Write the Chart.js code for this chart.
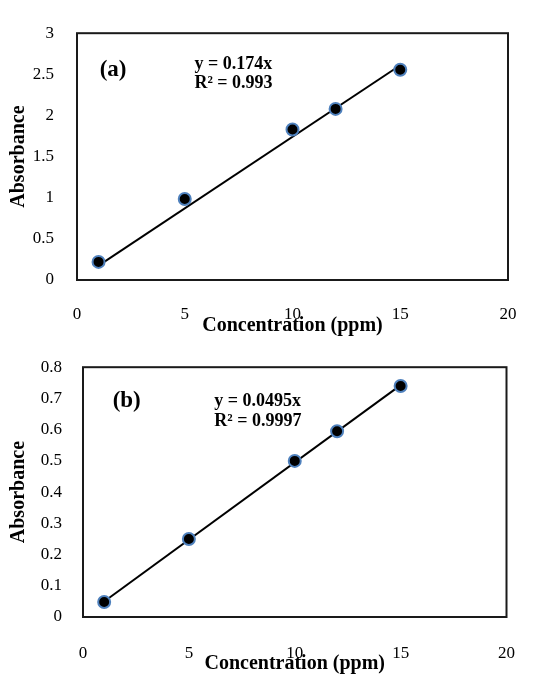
<!DOCTYPE html>
<html>
<head>
<meta charset="utf-8">
<script src="https://cdn.jsdelivr.net/npm/chart.js@4.4.0/dist/chart.umd.min.js"></script>
<style>
    body { margin: 0; background: #fff; }
    canvas { position: absolute; left: 0; }
    #chartA { top: 0; }
    #chartB { top: 336px; }
</style>
</head>
<body>
<canvas id="chartA" width="541" height="336"></canvas>
<canvas id="chartB" width="541" height="338"></canvas>
<script>
// Calibration data (a)
const concA = [1, 5, 10, 12, 15];
const absA = [0.22, 0.985, 1.83, 2.08, 2.555];
const trendXA = [1, 15];
const trendYA = [0.174, 2.61];

// Calibration data (b)
const concB = [1, 5, 10, 12, 15];
const absB = [0.048, 0.25, 0.5, 0.595, 0.74];
const trendXB = [1, 15];
const trendYB = [0.0495, 0.7425];

// Axes
const xTicks = [0, 5, 10, 15, 20];
const yTicksA = [0, 0.5, 1, 1.5, 2, 2.5, 3];
const yTicksB = [0, 0.1, 0.2, 0.3, 0.4, 0.5, 0.6, 0.7, 0.8];

const SERIF = '"Liberation Serif", "Times New Roman", serif';

// Draws the box round the plot area and the text notes
const framePlugin = {
    id: 'frame',
    afterDatasetsDraw(chart, args, opts) {
        const { ctx, chartArea: a, scales } = chart;
        ctx.save();
        ctx.strokeStyle = '#1a1a1a';
        ctx.lineWidth = 2;
        ctx.strokeRect(a.left, a.top, a.right - a.left, a.bottom - a.top);
        ctx.fillStyle = '#000';
        ctx.textBaseline = 'middle';
        ctx.textAlign = 'left';
        (opts.notes || []).forEach(n => {
            ctx.font = 'bold ' + n.size + 'px ' + SERIF;
            ctx.fillText(n.text, scales.x.getPixelForValue(n.x), scales.y.getPixelForValue(n.y));
        });
        ctx.restore();
    }
};

function makeChart(id, xs, ys, tx, ty, yTicks, yMax, cfg) {
    const pts = xs.map((x, i) => ({ x: x, y: ys[i] }));
    const line = tx.map((x, i) => ({ x: x, y: ty[i] }));
    return new Chart(document.getElementById(id), {
        type: 'scatter',
        data: {
            datasets: [{
                data: pts,
                backgroundColor: '#000',
                borderColor: '#4f81bd',
                borderWidth: 2,
                pointRadius: 6
            }, {
                type: 'line',
                data: line,
                borderColor: '#000',
                borderWidth: 2,
                pointRadius: 0,
                fill: false
            }]
        },
        options: {
            responsive: false,
            animation: false,
            layout: { padding: { top: cfg.top, right: cfg.right, left: 0, bottom: 0 } },
            plugins: {
                legend: { display: false },
                tooltip: { enabled: false },
                frame: { notes: cfg.notes }
            },
            scales: {
                x: {
                    type: 'linear',
                    min: 0, max: 20,
                    afterBuildTicks: s => { s.ticks = xTicks.map(v => ({ value: v })); },
                    afterFit: s => { s.height = cfg.xHeight; },
                    grid: { display: false, drawTicks: false },
                    border: { display: false },
                    ticks: { padding: cfg.xPad, color: '#000', font: { family: SERIF, size: 17 } },
                    title: {
                        display: true, text: 'Concentration (ppm)', color: '#000',
                        padding: { top: 0, bottom: -2 }, font: { family: SERIF, size: 20, weight: 'bold' }
                    }
                },
                y: {
                    min: 0, max: yMax,
                    afterBuildTicks: s => { s.ticks = yTicks.map(v => ({ value: v })); },
                    afterFit: s => { s.width = cfg.yWidth; },
                    grid: { display: false, drawTicks: false },
                    border: { display: false },
                    ticks: {
                        padding: cfg.yPad, color: '#000', font: { family: SERIF, size: 17 },
                        callback: v => String(+v.toFixed(2))
                    },
                    title: {
                        display: true, text: 'Absorbance', color: '#000',
                        padding: { top: 7, bottom: 0 }, font: { family: SERIF, size: 20, weight: 'bold' }
                    }
                }
            }
        },
        plugins: [framePlugin]
    });
}

makeChart('chartA', concA, absA, trendXA, trendYA, yTicksA, 3, {
    top: 19, right: 33, yWidth: 77, xHeight: 56, xPad: 24, yPad: 23,
    notes: [
        { text: '(a)', x: 1.05, y: 2.55, size: 23 },
        { text: 'y = 0.174x', x: 5.45, y: 2.62, size: 18 },
        { text: 'R\u00b2 = 0.993', x: 5.45, y: 2.39, size: 18 }
    ]
});

makeChart('chartB', concB, absB, trendXB, trendYB, yTicksB, 0.8, {
    top: 27, right: 28, yWidth: 83, xHeight: 57, xPad: 26, yPad: 21,
    notes: [
        { text: '(b)', x: 1.4, y: 0.69, size: 23 },
        { text: 'y = 0.0495x', x: 6.2, y: 0.69, size: 18 },
        { text: 'R\u00b2 = 0.9997', x: 6.2, y: 0.627, size: 18 }
    ]
});
</script>
</body>
</html>
